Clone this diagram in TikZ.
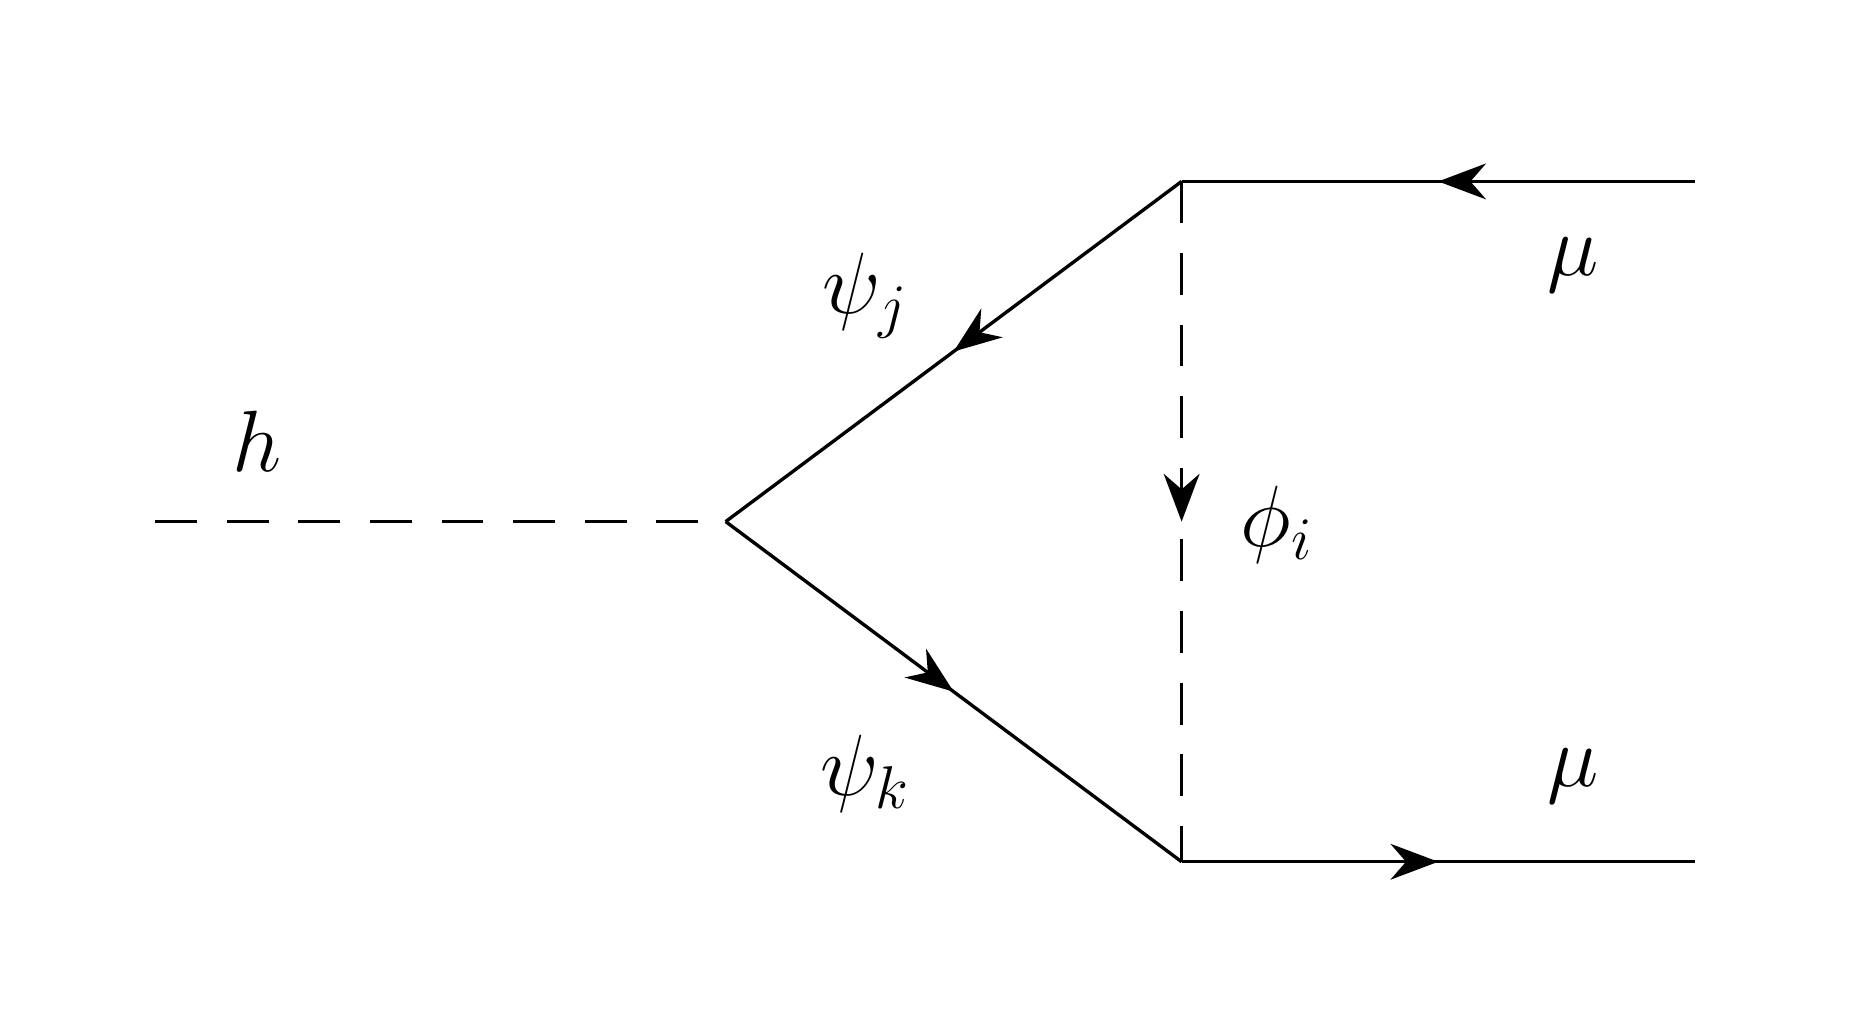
\documentclass[tikz,border=0pt]{standalone}
\usepackage{amsmath}
\usepackage{tikz}
\usetikzlibrary{arrows.meta,decorations.markings,positioning}

\begin{document}
\begin{tikzpicture}[
    fermion/.style={thick, postaction={decorate}, decoration={markings, mark=at position 0.5 with {\arrow{Stealth[length=4mm,width=3mm]}}}},
    scalar/.style={thick, dash pattern=on 3.5mm off 2.5mm},
    scalararrow/.style={scalar, postaction={decorate}, decoration={markings, mark=at position 0.5 with {\arrow{Stealth[length=4mm,width=3mm]}}}},
    lbl/.style={font=\huge}]
    \useasboundingbox (0,0) rectangle (15.5,8.53);

    \coordinate (hin) at (1.30,4.16);
    \coordinate (vh) at (6.08,4.16);
    \coordinate (vtop) at (9.90,7.01);
    \coordinate (vbot) at (9.90,1.31);
    \coordinate (muin) at (14.20,7.01);
    \coordinate (muout) at (14.20,1.31);

    \draw[scalar] (hin) -- (vh);
    \draw[fermion] (vtop) -- (vh);
    \draw[fermion] (vh) -- (vbot);
    \draw[scalararrow] (vtop) -- (vbot);
    \draw[fermion] (muin) -- (vtop);
    \draw[fermion] (vbot) -- (muout);

    \node[lbl] (hlabel) at (2.15,4.83) {$h$};
    \node[lbl] (psij) at (7.25,6.05) {$\psi_j$};
    \node[lbl] (psik) at (7.25,2.05) {$\psi_k$};
    \node[lbl] (phii) at (10.70,4.13) {$\phi_i$};
    \node[lbl] (mutop) at (13.18,6.31) {$\mu$};
    \node[lbl] (mubot) at (13.18,2.03) {$\mu$};
\end{tikzpicture}
\end{document}
